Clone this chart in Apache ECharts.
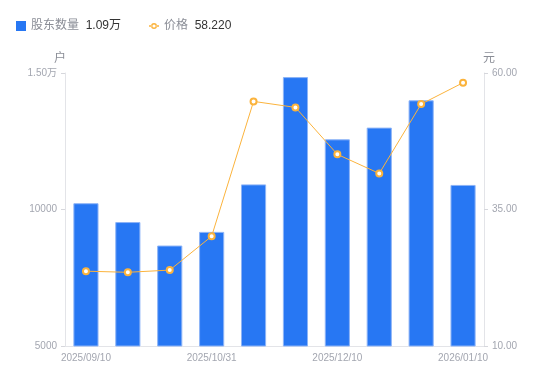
<!DOCTYPE html>
<html><head><meta charset="utf-8">
<script src="https://cdn.jsdelivr.net/npm/echarts@6/dist/echarts.min.js"></script>
<style>html,body{margin:0;padding:0;background:#fff}#c{width:550px;height:381px}</style>
</head><body><div id="c"></div>
<script>
const categories = ['2025/09/10','2025/09/20','2025/09/30','2025/10/31','2025/11/10','2025/11/20','2025/12/10','2025/12/20','2025/12/31','2026/01/10'];
const holders = [10230, 9540, 8680, 9180, 10920, 14850, 12570, 13000, 14000, 10900];
const prices = [23.7, 23.5, 23.9, 30.1, 54.8, 53.7, 45.1, 41.6, 54.3, 58.22];
const leftTicks = [5000, 10000, 15000];
const rightTicks = [10, 35, 60];

const chart = echarts.init(document.getElementById('c'));
const font = "'Liberation Sans', 'Noto Sans CJK SC', sans-serif";
const lineIcon = 'path://M0,4.35H2.4V5.65H0Z M7.6,4.35H10V5.65H7.6Z M2,5A3,3 0 1,0 8,5A3,3 0 1,0 2,5Z M3.4,5A1.6,1.6 0 1,1 6.6,5A1.6,1.6 0 1,1 3.4,5Z';
chart.setOption({
  animation: false,
  textStyle: {fontFamily: font},
  legend: {
    left: 11, top: 15, itemWidth: 10, itemHeight: 10, itemGap: 28,
    data: [{name: '股东数量', icon: 'rect', itemStyle: {color: '#2777f3', borderWidth: 0}},
           {name: '价格', icon: lineIcon, itemStyle: {color: '#fbb33c', borderWidth: 0}}],
    formatter: function (n) {
      if (n === '股东数量') return '{a|' + n + '}  {b|' + (holders[holders.length-1]/10000).toFixed(2) + '万}';
      return '{a|' + n + '}  {b|' + prices[prices.length-1].toFixed(3) + '}';
    },
    textStyle: {
      rich: {
        a: {color: '#8a8d96', fontSize: 12, fontFamily: font},
        b: {color: '#333', fontSize: 12, fontFamily: font}
      }
    }
  },
  grid: {left: 65, right: 66, top: 73, bottom: 35},
  xAxis: {
    type: 'category', data: categories,
    axisLine: {lineStyle: {color: '#e3e4e8'}},
    axisTick: {show: false},
    axisLabel: {color: '#a3a6b0', fontSize: 10, interval: 2, margin: 7, fontFamily: font}
  },
  yAxis: [{
    type: 'value', min: 5000, max: 15000, interval: 5000,
    name: '户', nameGap: 8, nameTextStyle: {color: '#8a8d96', fontSize: 12, padding: [0, 10, 0, 0]},
    axisLine: {show: true, lineStyle: {color: '#e3e4e8'}},
    axisTick: {show: true, length: 4, lineStyle: {color: '#d6d7dc'}},
    splitLine: {show: false},
    axisLabel: {color: '#a3a6b0', fontSize: 10, margin: 8, fontFamily: font,
      formatter: v => v > 10000 ? (v/10000).toFixed(2) + '万' : String(v)}
  }, {
    type: 'value', min: 10, max: 60, interval: 25,
    name: '元', nameGap: 8, nameTextStyle: {color: '#8a8d96', fontSize: 12, padding: [0, 0, 0, 10]},
    axisLine: {show: true, lineStyle: {color: '#e3e4e8'}},
    axisTick: {show: true, length: 4, lineStyle: {color: '#d6d7dc'}},
    splitLine: {show: false},
    axisLabel: {color: '#a3a6b0', fontSize: 10, margin: 8, fontFamily: font,
      formatter: v => v.toFixed(2)}
  }],
  series: [{
    name: '股东数量', type: 'bar', data: holders, barWidth: '60%',
    itemStyle: {color: '#2777f3', borderColor: '#8db4f7', borderWidth: 1}
  }, {
    name: '价格', type: 'line', yAxisIndex: 1, data: prices,
    symbol: 'circle', symbolSize: 6, showSymbol: true,
    lineStyle: {color: '#fbb33c', width: 1},
    itemStyle: {color: '#fff', borderColor: '#fbb33c', borderWidth: 2}
  }]
});
</script></body></html>
